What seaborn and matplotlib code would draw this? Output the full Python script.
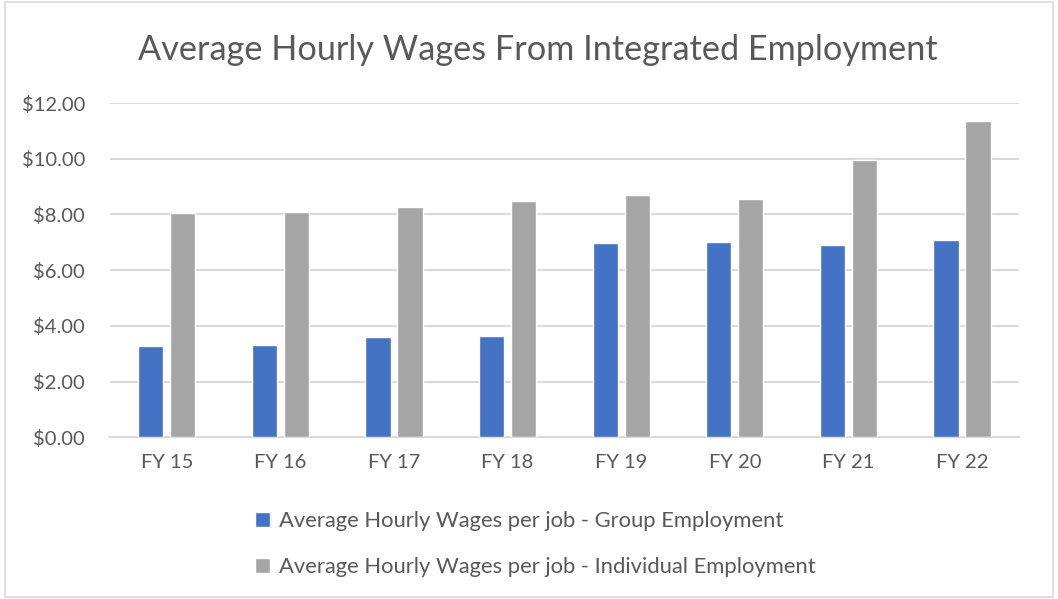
import pandas as pd
import matplotlib.pyplot as plt
import matplotlib.patches as mpatches
import seaborn as sns

# Data
years = ["FY 15", "FY 16", "FY 17", "FY 18", "FY 19", "FY 20", "FY 21", "FY 22"]
group_wages = [3.26, 3.32, 3.61, 3.62, 6.98, 7.00, 6.90, 7.10]
individual_wages = [8.06, 8.09, 8.27, 8.48, 8.71, 8.54, 9.95, 11.34]
series_names = ["Average Hourly Wages per job - Group Employment",
                "Average Hourly Wages per job - Individual Employment"]
y_ticks = [0, 2, 4, 6, 8, 10, 12]

df = pd.DataFrame({
    "year": years * 2,
    "wage": group_wages + individual_wages,
    "series": [series_names[0]] * len(years) + [series_names[1]] * len(years),
})

sns.set_style("white")
plt.rcParams['font.family'] = ['Lato', 'DejaVu Sans']
text_color = "#595959"
grid_color = "#d9d9d9"

fig = plt.figure(figsize=(10.58, 5.99), dpi=100)
ax = fig.add_axes([0.104, 0.270, 0.859, 0.558])

sns.barplot(data=df, x="year", y="wage", hue="series",
            palette=["#4472c4", "#a5a5a5"], width=0.563, gap=0.21,
            saturation=1, ax=ax, zorder=3)

ax.set_ylim(0, 12)
ax.set_yticks(y_ticks)
ax.set_yticklabels(["${:.2f}".format(v) for v in y_ticks])
ax.yaxis.grid(True, color=grid_color, linewidth=1.5, zorder=0)
ax.set_axisbelow(True)
for s in ["top", "right", "left"]:
    ax.spines[s].set_visible(False)
ax.spines["bottom"].set_color(grid_color)
ax.spines["bottom"].set_linewidth(1.5)
ax.tick_params(axis="both", length=0, labelsize=14.5, colors=text_color)
ax.tick_params(axis="x", pad=12)
ax.tick_params(axis="y", pad=18)
ax.set_xlabel("")
ax.set_ylabel("")

ax.legend(loc="upper left", bbox_to_anchor=(0.222, 0.18), bbox_transform=fig.transFigure,
          frameon=False, fontsize=15.8, labelcolor=text_color, handlelength=0.7,
          handleheight=0.7, handletextpad=0.4, labelspacing=1.2)

fig.suptitle("Average Hourly Wages From Integrated Employment", x=0.508, y=0.943,
             fontsize=24.7, color=text_color)

# light chart border
fig.patches.append(mpatches.Rectangle((0.005, 0.003), 0.99, 0.994, transform=fig.transFigure,
                                      fill=False, edgecolor="#d9d9d9", linewidth=1.2))

fig.savefig("out.png", dpi=100)
